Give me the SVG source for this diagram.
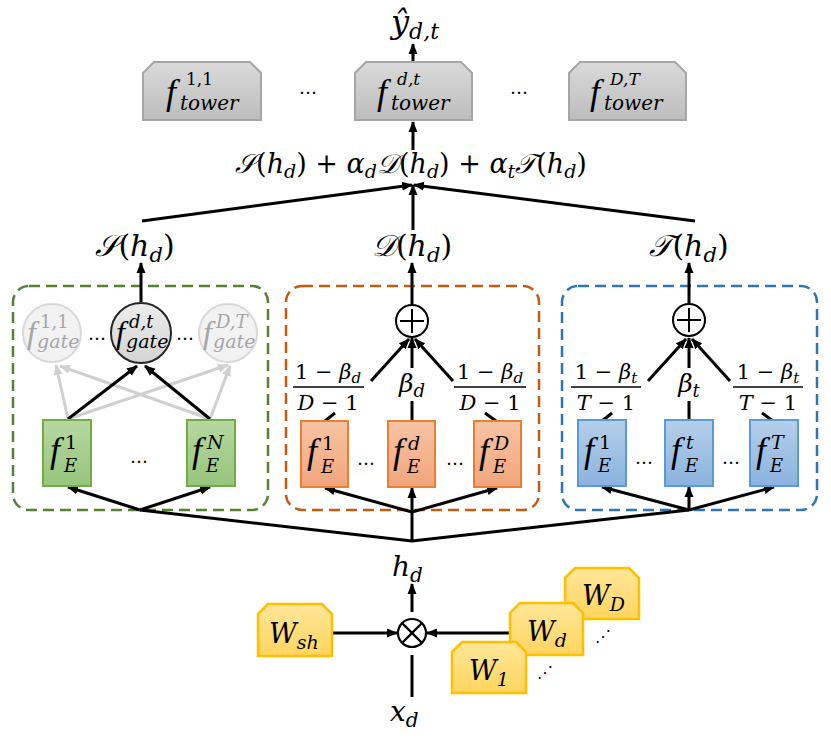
<svg xmlns="http://www.w3.org/2000/svg" width="831" height="741" viewBox="0 0 831 741">
<style>
text{font-family:"DejaVu Serif","Liberation Serif",serif;fill:#000}
.i{font-style:italic}
.f{font-family:"Liberation Serif",serif;font-style:italic}
.ln{stroke:#000;stroke-width:3;fill:none}
.lnA{stroke:#000;stroke-width:3;fill:none;marker-end:url(#ah)}
.gA{stroke:#d0d0d0;stroke-width:3;fill:none;marker-end:url(#ahg)}
.dash{fill:none;stroke-width:2.5;stroke-dasharray:11 6}
.tower{fill:url(#gGray);stroke:#a6a6a6;stroke-width:2}
.ge{fill:url(#gGreen);stroke:#70ad47;stroke-width:2}
.oe{fill:url(#gOrange);stroke:#ed7d31;stroke-width:2}
.be{fill:url(#gBlue);stroke:#5b9bd5;stroke-width:2}
.w{fill:url(#gYellow);stroke:#ffc000;stroke-width:2.5}
.lg text{fill:#a6a6a6}
</style>
<defs>
<marker id="ah" markerUnits="userSpaceOnUse" markerWidth="12" markerHeight="10" refX="10" refY="5" orient="auto"><path d="M0,0.5 L11,5 L0,9.5 z" fill="#000"/></marker>
<marker id="ahg" markerUnits="userSpaceOnUse" markerWidth="12" markerHeight="10" refX="10" refY="5" orient="auto"><path d="M0,0.5 L11,5 L0,9.5 z" fill="#d0d0d0"/></marker>
<linearGradient id="gGray" x1="0" y1="0" x2="0" y2="1"><stop offset="0" stop-color="#dadada"/><stop offset="1" stop-color="#bdbdbd"/></linearGradient>
<linearGradient id="gGreen" x1="0" y1="0" x2="0" y2="1"><stop offset="0" stop-color="#b7d8a1"/><stop offset="1" stop-color="#97c47b"/></linearGradient>
<linearGradient id="gOrange" x1="0" y1="0" x2="0" y2="1"><stop offset="0" stop-color="#f8c4a4"/><stop offset="1" stop-color="#f2a57c"/></linearGradient>
<linearGradient id="gBlue" x1="0" y1="0" x2="0" y2="1"><stop offset="0" stop-color="#b5cfea"/><stop offset="1" stop-color="#8bb3de"/></linearGradient>
<linearGradient id="gYellow" x1="0" y1="0" x2="0" y2="1"><stop offset="0" stop-color="#ffe699"/><stop offset="1" stop-color="#ffd55e"/></linearGradient>
<linearGradient id="gDark" x1="0" y1="0" x2="0" y2="1"><stop offset="0" stop-color="#ececec"/><stop offset="1" stop-color="#d4d4d4"/></linearGradient>
</defs>

<!-- dashed groups -->
<g id="box-shared"><rect class="dash" x="13" y="286" width="255" height="224" rx="16" stroke="#548235"/></g>
<g id="box-domain"><rect class="dash" x="286" y="286" width="253" height="224" rx="16" stroke="#c55a11"/></g>
<g id="box-task"><rect class="dash" x="562" y="286" width="255" height="224" rx="16" stroke="#2e75b6"/></g>

<!-- connectors -->
<g id="connectors">
<line class="lnA" x1="413" y1="61" x2="413" y2="44"/>
<line class="lnA" x1="413" y1="150" x2="413" y2="122"/>
<line class="lnA" x1="142" y1="221" x2="412" y2="185"/>
<line class="lnA" x1="695" y1="221" x2="414" y2="185"/>
<line class="lnA" x1="413" y1="230" x2="413" y2="185"/>
<line class="lnA" x1="141" y1="302" x2="141" y2="263"/>
<line class="lnA" x1="412" y1="304" x2="412" y2="263"/>
<line class="lnA" x1="689" y1="304" x2="689" y2="263"/>
<line class="gA" x1="68" y1="419" x2="56" y2="365"/>
<line class="gA" x1="68" y1="419" x2="228" y2="365"/>
<line class="gA" x1="210" y1="419" x2="60" y2="366"/>
<line class="gA" x1="210" y1="419" x2="230" y2="366"/>
<line class="lnA" x1="68" y1="419" x2="137" y2="366"/>
<line class="lnA" x1="210" y1="419" x2="145" y2="366"/>
<line class="lnA" x1="371" y1="381" x2="409" y2="339"/>
<line class="lnA" x1="453" y1="381" x2="415" y2="339"/>
<line class="lnA" x1="412" y1="368" x2="412" y2="338"/>
<line class="ln" x1="412" y1="401" x2="412" y2="421"/>
<line class="ln" x1="335" y1="413" x2="325" y2="421"/>
<line class="ln" x1="485" y1="413" x2="496" y2="421"/>
<line class="lnA" x1="648" y1="381" x2="686" y2="339"/>
<line class="lnA" x1="730" y1="381" x2="692" y2="339"/>
<line class="lnA" x1="689" y1="368" x2="689" y2="338"/>
<line class="ln" x1="689" y1="401" x2="689" y2="421"/>
<line class="ln" x1="612" y1="413" x2="602" y2="421"/>
<line class="ln" x1="762" y1="413" x2="773" y2="421"/>
<polyline class="ln" points="140,510 412,541 689,510"/>
<line class="ln" x1="412" y1="541" x2="412" y2="510"/>
<line class="lnA" x1="140" y1="510" x2="68" y2="487"/>
<line class="lnA" x1="140" y1="510" x2="210" y2="487"/>
<line class="lnA" x1="412" y1="512" x2="325" y2="488"/>
<line class="lnA" x1="412" y1="512" x2="412" y2="488"/>
<line class="lnA" x1="412" y1="512" x2="497" y2="488"/>
<line class="lnA" x1="689" y1="510" x2="602" y2="487"/>
<line class="lnA" x1="689" y1="510" x2="689" y2="487"/>
<line class="lnA" x1="689" y1="510" x2="774" y2="487"/>
<line class="lnA" x1="412" y1="612" x2="412" y2="584"/>
<line class="ln" x1="412" y1="655" x2="412" y2="697"/>
<line class="lnA" x1="332" y1="633" x2="397" y2="633"/>
<line class="lnA" x1="510" y1="633" x2="427" y2="633"/>
</g>

<g id="yhat"><text class="i" x="391" y="33" font-size="32">ŷ<tspan font-size="22" dy="6">d,t</tspan></text></g>

<g id="tower-11"><path class="tower" d="M143,73 L154,62 L250,62 L261,73 L261,120 L143,120 Z"/>
<text class="f" x="166" y="104" font-size="36">f</text><text x="186" y="85" font-size="17">1,1</text><text class="i" x="180" y="110" font-size="20">tower</text></g>
<g id="tower-dt"><path class="tower" d="M355,73 L366,62 L461,62 L472,73 L472,120 L355,120 Z"/>
<text class="f" x="377" y="104" font-size="36">f</text><text class="i" x="397" y="85" font-size="17">d,t</text><text class="i" x="391" y="110" font-size="20">tower</text></g>
<g id="tower-DT"><path class="tower" d="M569,73 L580,62 L675,62 L686,73 L686,120 L569,120 Z"/>
<text class="f" x="590" y="104" font-size="36">f</text><text class="i" x="610" y="85" font-size="17">D,T</text><text class="i" x="604" y="110" font-size="20">tower</text></g>
<text x="308" y="94" font-size="18" text-anchor="middle">…</text>
<text x="519" y="94" font-size="18" text-anchor="middle">…</text>

<g id="combine"><text x="411" y="173" font-size="27" text-anchor="middle"><tspan class="i">𝒮</tspan>(<tspan class="i">h</tspan><tspan class="i" font-size="19" dy="5">d</tspan><tspan dy="-5">) + </tspan><tspan class="i">α</tspan><tspan class="i" font-size="19" dy="5">d</tspan><tspan class="i" dy="-5">𝒟</tspan>(<tspan class="i">h</tspan><tspan class="i" font-size="19" dy="5">d</tspan><tspan dy="-5">) + </tspan><tspan class="i">α</tspan><tspan class="i" font-size="19" dy="5">t</tspan><tspan class="i" dy="-5">𝒯</tspan>(<tspan class="i">h</tspan><tspan class="i" font-size="19" dy="5">d</tspan><tspan dy="-5">)</tspan></text></g>

<g id="S-out"><text x="135" y="256" font-size="30" text-anchor="middle"><tspan class="i">𝒮</tspan>(<tspan class="i">h</tspan><tspan class="i" font-size="21" dy="6">d</tspan><tspan dy="-6">)</tspan></text></g>
<g id="D-out"><text x="412" y="256" font-size="30" text-anchor="middle"><tspan class="i">𝒟</tspan>(<tspan class="i">h</tspan><tspan class="i" font-size="21" dy="6">d</tspan><tspan dy="-6">)</tspan></text></g>
<g id="T-out"><text x="689" y="256" font-size="30" text-anchor="middle"><tspan class="i">𝒯</tspan>(<tspan class="i">h</tspan><tspan class="i" font-size="21" dy="6">d</tspan><tspan dy="-6">)</tspan></text></g>

<g id="gate-11" class="lg"><circle cx="52" cy="333" r="29" fill="#f2f2f2" stroke="#d9d9d9" stroke-width="2"/>
<text class="f" x="27" y="343" font-size="32">f</text><text x="40" y="328" font-size="18">1,1</text><text class="i" x="37" y="348" font-size="19">gate</text></g>
<g id="gate-dt"><circle cx="141" cy="333" r="30" fill="url(#gDark)" stroke="#262626" stroke-width="2"/>
<text class="f" x="116" y="343" font-size="32">f</text><text class="i" x="129" y="328" font-size="18">d,t</text><text class="i" x="126" y="348" font-size="19">gate</text></g>
<g id="gate-DT" class="lg"><circle cx="228" cy="333" r="29" fill="#f2f2f2" stroke="#d9d9d9" stroke-width="2"/>
<text class="f" x="203" y="343" font-size="32">f</text><text class="i" x="216" y="328" font-size="18">D,T</text><text class="i" x="213" y="348" font-size="19">gate</text></g>
<text x="97" y="340" font-size="18" text-anchor="middle">…</text>
<text x="185" y="340" font-size="18" text-anchor="middle">…</text>

<g id="shared-1"><rect class="ge" x="43" y="420" width="48" height="66"/>
<text class="f" x="50" y="462" font-size="36">f</text><text x="65" y="449" font-size="19">1</text><text class="i" x="64" y="472" font-size="18">E</text></g>
<g id="shared-N"><rect class="ge" x="187" y="420" width="48" height="66"/>
<text class="f" x="192" y="462" font-size="36">f</text><text class="i" x="207" y="449" font-size="19">N</text><text class="i" x="206" y="472" font-size="18">E</text></g>
<text x="139" y="463" font-size="18" text-anchor="middle">…</text>

<g id="domain-1"><rect class="oe" x="301" y="421" width="47" height="66"/>
<text class="f" x="307" y="463" font-size="36">f</text><text x="322" y="450" font-size="19">1</text><text class="i" x="321" y="473" font-size="18">E</text></g>
<g id="domain-d"><rect class="oe" x="388" y="421" width="47" height="66"/>
<text class="f" x="393" y="463" font-size="36">f</text><text class="i" x="408" y="450" font-size="19">d</text><text class="i" x="407" y="473" font-size="18">E</text></g>
<g id="domain-D"><rect class="oe" x="474" y="421" width="47" height="66"/>
<text class="f" x="479" y="463" font-size="36">f</text><text class="i" x="494" y="450" font-size="19">D</text><text class="i" x="493" y="473" font-size="18">E</text></g>
<text x="366" y="465" font-size="18" text-anchor="middle">…</text>
<text x="455" y="465" font-size="18" text-anchor="middle">…</text>

<g id="domain-sum"><circle cx="412" cy="321" r="16" fill="#fff" stroke="#000" stroke-width="2"/><path d="M412,309 V333 M400,321 H424" stroke="#000" stroke-width="2"/></g>
<g id="domain-weights">
<text x="412" y="392" font-size="25" text-anchor="middle" class="i">β<tspan font-size="18" dy="5">d</tspan></text>
<text x="328" y="379" font-size="21" text-anchor="middle">1 − <tspan class="i">β</tspan><tspan class="i" font-size="15" dy="4">d</tspan></text>
<line x1="293" y1="387" x2="364" y2="387" stroke="#000" stroke-width="1.5"/>
<text x="328" y="410" font-size="21" text-anchor="middle"><tspan class="i">D</tspan> − 1</text>
<text x="490" y="379" font-size="21" text-anchor="middle">1 − <tspan class="i">β</tspan><tspan class="i" font-size="15" dy="4">d</tspan></text>
<line x1="454" y1="387" x2="526" y2="387" stroke="#000" stroke-width="1.5"/>
<text x="490" y="410" font-size="21" text-anchor="middle"><tspan class="i">D</tspan> − 1</text>
</g>

<g id="task-1"><rect class="be" x="578" y="420" width="48" height="66"/>
<text class="f" x="584" y="462" font-size="36">f</text><text x="599" y="449" font-size="19">1</text><text class="i" x="598" y="472" font-size="18">E</text></g>
<g id="task-t"><rect class="be" x="665" y="420" width="48" height="66"/>
<text class="f" x="671" y="462" font-size="36">f</text><text class="i" x="686" y="449" font-size="19">t</text><text class="i" x="685" y="472" font-size="18">E</text></g>
<g id="task-T"><rect class="be" x="750" y="420" width="48" height="66"/>
<text class="f" x="756" y="462" font-size="36">f</text><text class="i" x="771" y="449" font-size="19">T</text><text class="i" x="770" y="472" font-size="18">E</text></g>
<text x="644" y="464" font-size="18" text-anchor="middle">…</text>
<text x="731" y="464" font-size="18" text-anchor="middle">…</text>

<g id="task-sum"><circle cx="689" cy="320" r="16" fill="#fff" stroke="#000" stroke-width="2"/><path d="M689,308 V332 M677,320 H701" stroke="#000" stroke-width="2"/></g>
<g id="task-weights">
<text x="689" y="392" font-size="25" text-anchor="middle" class="i">β<tspan font-size="18" dy="5">t</tspan></text>
<text x="606" y="379" font-size="21" text-anchor="middle">1 − <tspan class="i">β</tspan><tspan class="i" font-size="15" dy="4">t</tspan></text>
<line x1="571" y1="387" x2="641" y2="387" stroke="#000" stroke-width="1.5"/>
<text x="606" y="410" font-size="21" text-anchor="middle"><tspan class="i">T</tspan> − 1</text>
<text x="768" y="379" font-size="21" text-anchor="middle">1 − <tspan class="i">β</tspan><tspan class="i" font-size="15" dy="4">t</tspan></text>
<line x1="733" y1="387" x2="803" y2="387" stroke="#000" stroke-width="1.5"/>
<text x="768" y="410" font-size="21" text-anchor="middle"><tspan class="i">T</tspan> − 1</text>
</g>

<g id="hd"><text class="i" x="392" y="576" font-size="28">h<tspan font-size="20" dy="6">d</tspan></text></g>
<g id="otimes"><circle cx="412" cy="633" r="14" fill="#fff" stroke="#000" stroke-width="2.2"/><path d="M402.1,623.1 L421.9,642.9 M421.9,623.1 L402.1,642.9" stroke="#000" stroke-width="2.2"/></g>
<g id="xd"><text class="i" x="390" y="721" font-size="28">x<tspan font-size="20" dy="6">d</tspan></text></g>

<g id="W-sh"><path class="w" d="M258,614 L268,604 L322,604 L332,614 L332,656 L258,656 Z"/>
<text class="i" x="269" y="643" font-size="27">W<tspan font-size="19" dy="6">sh</tspan></text></g>
<g id="W-D"><path class="w" d="M565,578 L575,568 L629,568 L639,578 L639,619 L565,619 Z"/>
<text class="i" x="582" y="605" font-size="27">W<tspan font-size="19" dy="6">D</tspan></text></g>
<g id="W-d"><path class="w" d="M510,613 L520,603 L573,603 L583,613 L583,655 L510,655 Z"/>
<text class="i" x="527" y="641" font-size="27">W<tspan font-size="19" dy="6">d</tspan></text></g>
<g id="W-1"><path class="w" d="M452,652 L462,642 L516,642 L526,652 L526,693 L452,693 Z"/>
<text class="i" x="469" y="680" font-size="27">W<tspan font-size="19" dy="6">1</tspan></text></g>
<text x="603" y="642" font-size="16" text-anchor="middle" font-family="DejaVu Sans">⋰</text>
<text x="545" y="678" font-size="16" text-anchor="middle" font-family="DejaVu Sans">⋰</text>
</svg>
